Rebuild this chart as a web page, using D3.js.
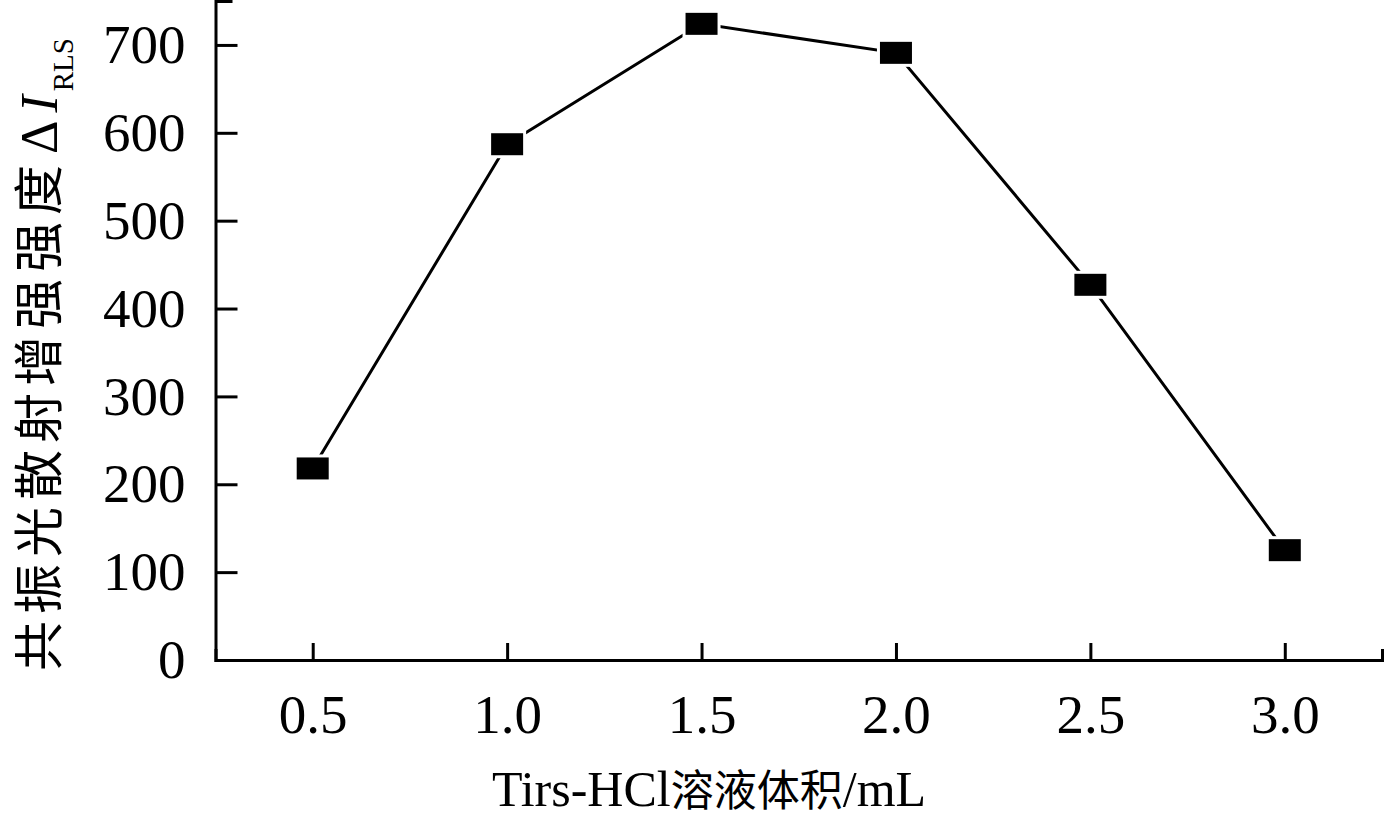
<!DOCTYPE html>
<html><head><meta charset="utf-8">
<script src="https://cdn.jsdelivr.net/npm/d3@7"></script>
<style>html,body{margin:0;padding:0;background:#fff;}svg{display:block;}</style>
</head><body>
<script>
const volumes = [0.5, 1.0, 1.5, 2.0, 2.5, 3.0];
const intensity = [218, 587, 724, 691, 427, 125];
const xTicks = [0.5, 1.0, 1.5, 2.0, 2.5, 3.0];
const yTicks = [0, 100, 200, 300, 400, 500, 600, 700];
const xTitleLatin = "Tirs-HCl";
const xTitleCN = "溶液体积";
const xTitleUnit = "/mL";
const yTitleCN = "共振光散射增强强度";

const W = 1384, H = 817;
const svg = d3.select("body").append("svg").attr("width", W).attr("height", H);
const x = d3.scaleLinear().domain([0.25, 3.25]).range([215.5, 1382]);
const y = d3.scaleLinear().domain([0, 750]).range([660, 1]);
const serif = "'Liberation Serif','Times New Roman',serif";
const cjk = "'Noto Sans CJK SC','Liberation Serif',serif";

// Axes
const xAxis = svg.append("g").attr("transform", `translate(0,${y(0)})`)
  .call(d3.axisBottom(x).tickValues(xTicks).tickSizeInner(-17).tickSizeOuter(-11).tickPadding(34).tickFormat(d3.format(".1f")));
const yAxis = svg.append("g").attr("transform", `translate(${x(0.25)},0)`)
  .call(d3.axisLeft(y).tickValues(yTicks).tickSizeInner(-22).tickSizeOuter(-17).tickPadding(30));
[xAxis, yAxis].forEach(g => {
  g.selectAll("path.domain").attr("stroke", "#000").attr("stroke-width", 3);
  g.selectAll(".tick line").attr("stroke", "#000").attr("stroke-width", 3);
  g.selectAll("text").attr("fill", "#000").style("font-family", serif).style("font-size", "55px");
});
xAxis.selectAll("text").attr("dy", "0.71em");

// Line
const line = d3.line().x((d, i) => x(volumes[i])).y(d => y(d));
svg.append("path").datum(intensity).attr("d", line)
  .attr("fill", "none").attr("stroke", "#000").attr("stroke-width", 3);

// Markers
svg.selectAll("rect.halo").data(intensity).enter().append("rect").attr("class","halo")
  .attr("x", (d, i) => x(volumes[i]) - 19).attr("y", d => y(d) - 14)
  .attr("width", 38).attr("height", 28).attr("fill", "#fff");
svg.selectAll("rect.mk").data(intensity).enter().append("rect").attr("class","mk")
  .attr("x", (d, i) => x(volumes[i]) - 16).attr("y", d => y(d) - 11)
  .attr("width", 32).attr("height", 22).attr("fill", "#000");

// X title
const xt = svg.append("text").attr("x", 709).attr("y", 806).attr("text-anchor", "middle").attr("fill", "#000");
xt.append("tspan").style("font-family", serif).style("font-size", "50px").text(xTitleLatin);
xt.append("tspan").style("font-family", cjk).style("font-size", "43px").text(xTitleCN);
xt.append("tspan").style("font-family", serif).style("font-size", "50px").text(xTitleUnit);

// Y title
const yt = svg.append("text").attr("transform", "translate(57,671) rotate(-90)")
  .attr("text-anchor", "start").attr("fill", "#000");
yt.append("tspan").style("font-family", cjk).style("font-size", "50px").style("letter-spacing", "7px").text(yTitleCN);
yt.append("tspan").style("font-family", serif).style("font-size", "52px").attr("dx", 4).text("Δ");
yt.append("tspan").style("font-family", serif).style("font-size", "52px").style("font-style", "italic").attr("dx", 8).text("I");
yt.append("tspan").style("font-family", serif).style("font-size", "29px").attr("dy", 16).attr("dx", 4).text("RLS");
</script>
</body></html>
